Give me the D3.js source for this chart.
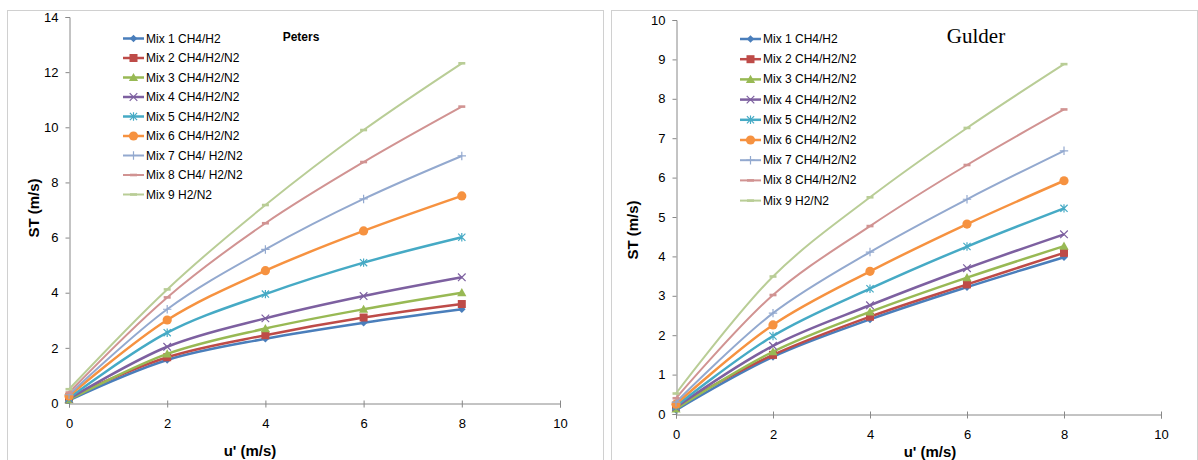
<!DOCTYPE html>
<html>
<head>
<meta charset="utf-8">
<script src="https://cdn.jsdelivr.net/npm/d3@7"></script>
<style>
  body { margin: 0; background: #fff; }
  svg { display: block; }
  text { font-family: "Liberation Sans", Arial, sans-serif; fill: #000; }
</style>
</head>
<body>
<svg id="chart" width="1198" height="460"></svg>
<script>
// Turbulence intensity u' (m/s) at which ST was evaluated
const uPrime = [0, 2, 4, 6, 8];

// Legend labels for each panel
const petersNames = [
  "Mix 1 CH4/H2", "Mix 2 CH4/H2/N2", "Mix 3 CH4/H2/N2", "Mix 4 CH4/H2/N2",
  "Mix 5 CH4/H2/N2", "Mix 6 CH4/H2/N2", "Mix 7 CH4/ H2/N2", "Mix 8 CH4/ H2/N2", "Mix 9 H2/N2"
];
const gulderNames = [
  "Mix 1 CH4/H2", "Mix 2 CH4/H2/N2", "Mix 3 CH4/H2/N2", "Mix 4 CH4/H2/N2",
  "Mix 5 CH4/H2/N2", "Mix 6 CH4/H2/N2", "Mix 7 CH4/H2/N2", "Mix 8 CH4/H2/N2", "Mix 9 H2/N2"
];

// Turbulent burning velocity ST (m/s), Peters correlation, one row per mixture
const petersST = [
  [0.10, 1.56, 2.33, 2.91, 3.40],
  [0.20, 1.66, 2.46, 3.10, 3.59],
  [0.12, 1.78, 2.70, 3.40, 4.00],
  [0.15, 2.04, 3.07, 3.88, 4.56],
  [0.18, 2.55, 3.95, 5.09, 6.01],
  [0.25, 3.01, 4.80, 6.24, 7.51],
  [0.30, 3.40, 5.57, 7.40, 8.96],
  [0.38, 3.83, 6.52, 8.74, 10.75],
  [0.50, 4.12, 7.18, 9.90, 12.32]
];

// Turbulent burning velocity ST (m/s), Gulder correlation
const gulderST = [
  [0.10, 1.45, 2.40, 3.22, 3.98],
  [0.20, 1.50, 2.47, 3.29, 4.09],
  [0.13, 1.58, 2.59, 3.46, 4.26],
  [0.17, 1.73, 2.76, 3.70, 4.56],
  [0.20, 1.98, 3.18, 4.25, 5.22],
  [0.25, 2.26, 3.62, 4.82, 5.92],
  [0.30, 2.56, 4.11, 5.45, 6.68],
  [0.40, 3.02, 4.77, 6.32, 7.73],
  [0.52, 3.49, 5.50, 7.26, 8.88]
];

const xTicks = [0, 2, 4, 6, 8, 10];
const petersYTicks = [0, 2, 4, 6, 8, 10, 12, 14];
const gulderYTicks = [0, 1, 2, 3, 4, 5, 6, 7, 8, 9, 10];

// Series styling
const colors = ["#4A7EBB", "#BE4B48", "#98B954", "#7D60A0", "#46AAC5", "#F69240", "#93A9CF", "#D19392", "#B9CD96"];
const markers = ["diamond", "square", "triangle", "x", "star", "circle", "plus", "dash", "dash"];
const widths = [2.5, 2.5, 2.5, 2.5, 2.5, 2.5, 2, 2, 2];

const svg = d3.select("#chart");

function drawMarker(g, type, color) {
  switch (type) {
    case "diamond":
      g.append("path").attr("d", "M0,-3.8L3.8,0L0,3.8L-3.8,0Z").attr("fill", color);
      break;
    case "square":
      g.append("rect").attr("x", -4).attr("y", -4).attr("width", 8).attr("height", 8).attr("fill", color);
      break;
    case "triangle":
      g.append("path").attr("d", "M0,-4.6L4.6,3.6L-4.6,3.6Z").attr("fill", color);
      break;
    case "x":
      g.append("path").attr("d", "M-3.8,-3.8L3.8,3.8M-3.8,3.8L3.8,-3.8")
        .attr("stroke", color).attr("stroke-width", 1.2).attr("fill", "none");
      break;
    case "star":
      g.append("path").attr("d", "M-3.6,-3.6L3.6,3.6M-3.6,3.6L3.6,-3.6M0,-4.2L0,4.2")
        .attr("stroke", color).attr("stroke-width", 1.2).attr("fill", "none");
      break;
    case "circle":
      g.append("circle").attr("r", 4.6).attr("fill", color);
      break;
    case "plus":
      g.append("path").attr("d", "M-4.2,0L4.2,0M0,-4.2L0,4.2")
        .attr("stroke", color).attr("stroke-width", 1.2).attr("fill", "none");
      break;
    case "dash":
      g.append("path").attr("d", "M-3.5,0L3.5,0")
        .attr("stroke", color).attr("stroke-width", 2.6).attr("fill", "none");
      break;
  }
}

function drawPanel(p) {
  const root = svg.append("g");

  // chart frame
  root.append("rect")
    .attr("x", p.frame[0] + 0.5).attr("y", p.frame[1] + 0.5)
    .attr("width", p.frame[2]).attr("height", p.frame[3])
    .attr("fill", "none").attr("stroke", "#D0D0D0").attr("stroke-width", 1);

  const x = d3.scaleLinear().domain([0, 10]).range([p.x0, p.x1]);
  const y = d3.scaleLinear().domain([0, p.yMax]).range([p.y0, p.y1]);

  // y axis
  const yAxis = root.append("g")
    .attr("transform", `translate(${p.x0 + 0.5},0)`)
    .call(d3.axisLeft(y).tickValues(p.yTicks).tickSize(4).tickPadding(7).tickFormat(d3.format("d")));
  yAxis.select(".domain").attr("stroke", "#888");
  yAxis.selectAll(".tick line").attr("stroke", "#888");
  yAxis.selectAll("text").style("font-size", "13px").attr("fill", "#000");

  // x axis
  const xAxis = root.append("g")
    .attr("transform", `translate(0,${p.y0 + 0.5})`)
    .call(d3.axisBottom(x).tickValues(xTicks).tickSizeOuter(0).tickSize(4).tickPadding(p.xPad).tickFormat(d3.format("d")));
  xAxis.select(".domain").attr("stroke", "#888");
  xAxis.selectAll(".tick line").attr("stroke", "#888").attr("y1", -3);
  xAxis.selectAll("text").style("font-size", "13px").attr("fill", "#000");

  // axis titles
  root.append("text")
    .attr("transform", `translate(${p.yTitle[0]},${p.yTitle[1]}) rotate(-90)`)
    .attr("text-anchor", "middle").attr("dominant-baseline", "central")
    .style("font-size", "15px").style("font-weight", "bold")
    .text("ST (m/s)");
  root.append("text")
    .attr("x", p.xTitle[0]).attr("y", p.xTitle[1])
    .attr("text-anchor", "middle").attr("dominant-baseline", "central")
    .style("font-size", "15px").style("font-weight", "bold")
    .text("u' (m/s)");

  // series lines and markers
  const line = d3.line()
    .x((d, i) => x(uPrime[i]))
    .y(d => y(d))
    .curve(d3.curveCatmullRom.alpha(0.5));

  p.values.forEach((vals, s) => {
    const g = root.append("g");
    g.append("path")
      .attr("d", line(vals))
      .attr("fill", "none")
      .attr("stroke", colors[s])
      .attr("stroke-width", widths[s])
      .attr("stroke-linejoin", "round");
    vals.forEach((v, i) => {
      const m = g.append("g").attr("transform", `translate(${x(uPrime[i])},${y(v)})`);
      drawMarker(m, markers[s], colors[s]);
    });
  });

  // legend
  const leg = root.append("g");
  p.names.forEach((name, s) => {
    const cy = p.legY + s * p.legStep;
    const row = leg.append("g");
    row.append("line")
      .attr("x1", p.legX).attr("x2", p.legX + 21)
      .attr("y1", cy).attr("y2", cy)
      .attr("stroke", colors[s]).attr("stroke-width", widths[s]);
    drawMarker(row.append("g").attr("transform", `translate(${p.legX + 10.5},${cy})`), markers[s], colors[s]);
    row.append("text")
      .attr("x", p.legX + 23).attr("y", cy)
      .attr("dominant-baseline", "central")
      .style("font-size", "12px")
      .text(name);
  });

  // panel title
  root.append("text")
    .attr("x", p.title[0]).attr("y", p.title[1])
    .attr("text-anchor", "middle").attr("dominant-baseline", "central")
    .style("font-family", p.titleFont)
    .style("font-size", p.titleSize)
    .style("font-weight", p.titleWeight)
    .text(p.titleText);
}

drawPanel({
  frame: [7, 10, 596, 460],
  x0: 69, x1: 560, y0: 403, y1: 17, yMax: 14,
  yTicks: petersYTicks, xPad: 11,
  yTitle: [33, 208], xTitle: [250, 450],
  values: petersST, names: petersNames,
  legX: 123, legY: 38.5, legStep: 19.5,
  title: [301, 37], titleText: "Peters",
  titleFont: "'Liberation Sans', Arial, sans-serif", titleSize: "12px", titleWeight: "bold"
});

drawPanel({
  frame: [611, 10, 586, 460],
  x0: 676, x1: 1161, y0: 414, y1: 20, yMax: 10,
  yTicks: gulderYTicks, xPad: 11,
  yTitle: [632, 230], xTitle: [930, 451],
  values: gulderST, names: gulderNames,
  legX: 740, legY: 39, legStep: 20.2,
  title: [976, 36], titleText: "Gulder",
  titleFont: "'Liberation Serif', 'Times New Roman', serif", titleSize: "21px", titleWeight: "normal"
});
</script>
</body>
</html>
